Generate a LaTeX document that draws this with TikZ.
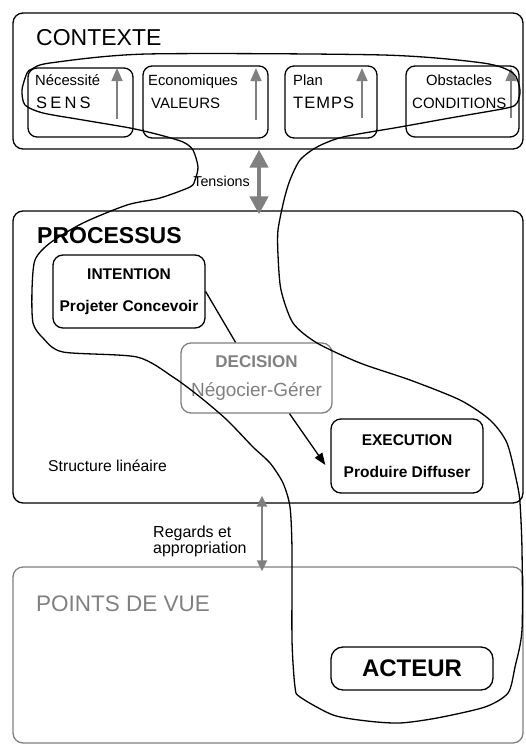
\documentclass[tikz,border=0pt]{standalone}
\usepackage{fontspec}
\setmainfont{Liberation Sans}
\usetikzlibrary{arrows.meta,calc}
\definecolor{midgray}{RGB}{128,128,128}
\newcommand{\fs}[1]{\fontsize{#1}{#1}\selectfont}
\begin{document}
\begin{tikzpicture}[x=1pt,y=-1pt,
  bigbox/.style={draw, line width=1.3pt, rounded corners=10pt, inner sep=0pt},
  subbox/.style={draw, line width=1.3pt, rounded corners=9pt, inner sep=0pt},
  procbox/.style={draw, line width=1.3pt, rounded corners=10pt, inner sep=0pt, align=center, font=\bfseries\fs{15.5}},
  lbl/.style={inner sep=0pt, anchor=base west},
  upar/.style={midgray, line width=1.6pt, -{Triangle[length=13pt,width=11pt]}},
  tensar/.style={midgray, line width=4.5pt, {Triangle[length=18pt,width=18pt]}-{Triangle[length=18pt,width=18pt]}},
  regar/.style={midgray, line width=1.8pt, {Triangle[length=11pt,width=10pt]}-{Triangle[length=11pt,width=10pt]}},
  flow/.style={line width=1.3pt},
  loopline/.style={line width=1.3pt}]
\useasboundingbox (0,0) rectangle (525,744);

% containers
\node[bigbox, minimum width=510pt, minimum height=136pt] (context) at (268,81) {};
\node[bigbox, minimum width=510pt, minimum height=292pt] (processus) at (268,357) {};
\node[bigbox, draw=midgray, minimum width=510pt, minimum height=176pt] (points) at (268,655) {};

\node[lbl, font=\fs{23}] (tctx) at (36,45) {CONTEXTE};
\node[lbl, font=\bfseries\fs{23}] (tproc) at (37,243) {PROCESSUS};
\node[lbl, font=\fs{22.5}, text=midgray] (tpdv) at (36,611) {POINTS DE VUE};

% context sub-boxes
\node[subbox, minimum width=105pt, minimum height=69pt] (b1) at (80.5,102.5) {};
\node[subbox, minimum width=125pt, minimum height=72pt] (b2) at (205.5,102) {};
\node[subbox, minimum width=92pt, minimum height=72pt] (b3) at (331,102) {};
\node[subbox, minimum width=113pt, minimum height=71pt] (b4) at (462.5,101.5) {};

\node[lbl, font=\fs{14.8}] (l1a) at (35,85) {Nécessité};
\node[lbl, font=\fs{16.5}] (l1b) at (36,108) {S\kern3.2pt E\kern3.2pt N\kern3.2pt S};
\node[lbl, font=\fs{14.8}] (l2a) at (148,85) {Economiques};
\node[lbl, font=\fs{15}] (l2b) at (151,108) {VALEURS};
\node[lbl, font=\fs{14.8}] (l3a) at (293,85) {Plan};
\node[lbl, font=\fs{16.5}] (l3b) at (293,108) {T\kern1pt E\kern1pt M\kern1pt P\kern1pt S};
\node[lbl, font=\fs{14.8}] (l4a) at (426,85) {Obstacles};
\node[lbl, font=\fs{15}] (l4b) at (412,108) {CONDITIONS};

\draw[upar] (117,119) -- (117,68);
\draw[upar] (256,120) -- (256,68);
\draw[upar] (362,118) -- (362,68);
\draw[upar] (511,118) -- (511,68);

% process boxes
\node[procbox, minimum width=152pt, minimum height=73pt] (intention) at (129,291.5)
  {INTENTION\\[16.5pt]Projeter Concevoir};
\node[procbox, draw=midgray, minimum width=151pt, minimum height=70pt] (decision) at (256.5,378)
  {\textcolor{midgray}{\fs{17}DECISION}\\[13pt]\textcolor{midgray}{\mdseries\fs{19}Négocier-Gérer}};
\node[procbox, minimum width=152pt, minimum height=74pt] (execution) at (407,456)
  {EXECUTION\\[16.5pt]Produire Diffuser};
\node[procbox, minimum width=162pt, minimum height=43pt, rounded corners=12pt, font=\bfseries\fs{24}] (acteur) at (412,668.5)
  {ACTEUR};

\node[lbl, font=\fs{15.7}] (tstruct) at (48,471) {Structure linéaire};
\node[inner sep=0pt, anchor=west, align=left, font=\fontsize{16}{16}\selectfont] (tregards) at (153,541)
  {Regards et\\appropriation};
\node[inner sep=0pt, anchor=base east, font=\fs{14.3}] (ttens) at (250,186) {Tensions};

% connectors
\draw[flow] (intention.east) -- (decision);
\draw[flow, -{Triangle[length=12pt,width=9pt]}] ($(decision.south)+(33,0)$) -- ($(execution.west)+(-5,9)$);

\coordinate (tx) at (259,0);
\draw[tensar] (context.south -| tx) -- ($(processus.north -| tx)+(0,4)$);
\coordinate (rx) at (262,0);
\draw[regar] ($(processus.south -| rx)+(0,-8)$) -- ($(points.north -| rx)+(0,5)$);

% the actor's path
\draw[loopline] plot[smooth cycle, tension=0.45] coordinates {
 (32,69) (50,63) (147,54) (383,55) (483,63) (513,73) (520,90) (517,103) (507,108)
 (450,118) (400,127) (343,137) (317,147) (300,160) (290,180) (284,200) (278,230)
 (278,255) (281,290) (293,323) (317,343) (360,363) (410,380) (460,400) (490,420)
 (507,443) (517,483) (520,503) (522,550) (522,630) (515,667) (508,693) (485,707)
 (437,718) (400,723) (367,721) (333,715) (300,697) (295,687) (292,640) (292,550)
 (290,507) (283,483) (270,463) (253,447) (227,420) (200,397) (173,377) (137,357)
 (63,352) (43,338) (33,323) (32,290) (35,260) (50,243) (83,223) (127,205) (160,198)
 (190,187) (195,180) (198,167) (193,150) (183,142) (160,135) (130,128) (83,120)
 (43,113) (25,105) (22,90) (27,73)};
\end{tikzpicture}
\end{document}
